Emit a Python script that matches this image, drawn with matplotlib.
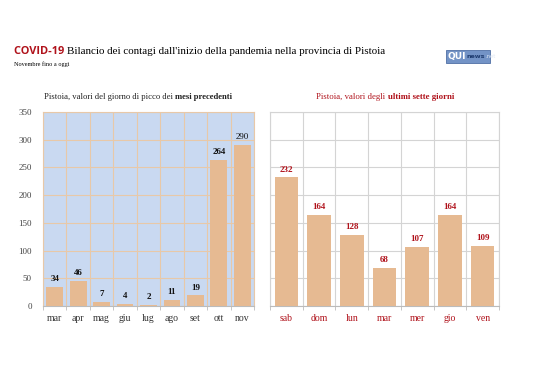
import matplotlib
matplotlib.use("Agg")
import matplotlib.pyplot as plt
from matplotlib.patches import Rectangle
import numpy as np

mesi = ["mar", "apr", "mag", "giu", "lug", "ago", "set", "ott", "nov"]
picchi = [34, 46, 7, 4, 2, 11, 19, 264, 290]
giorni = ["sab", "dom", "lun", "mar", "mer", "gio", "ven"]
ultimi = [232, 164, 128, 68, 107, 164, 109]

BAR = "#E6BA92"
BLUE = "#C9D9F1"
RED = "#B0121B"
SERIF = "Liberation Serif"

fig = plt.figure(figsize=(5.38, 3.80), dpi=100)
fig.patch.set_facecolor("white")


def testo_multi(x, y, parts, ha="left", **kw):
    # scrive pezzi di testo uno dopo l'altro sulla stessa riga
    r = fig.canvas.get_renderer()
    objs = []
    for s, props in parts:
        t = fig.text(0, y, s, **{**kw, **props})
        objs.append(t)
    widths = [t.get_window_extent(r).width / fig.bbox.width for t in objs]
    tot = sum(widths)
    start = x - tot / 2 if ha == "center" else x
    for t, w in zip(objs, widths):
        t.set_x(start)
        start += w


def pannello(ax, labels, values, bg, gridcol, labcol, valcol, yticks):
    xs = np.arange(len(labels))
    ax.set_facecolor(bg)
    ax.bar(xs, values, width=0.72, color=BAR, zorder=3)
    ax.set_xlim(-0.5, len(labels) - 0.5)
    ax.set_ylim(0, 350)
    ax.set_yticks(np.arange(0, 351, 50))
    ax.set_xticks(np.arange(-0.5, len(labels), 1), minor=True)
    ax.grid(True, which="minor", axis="x", color=gridcol, lw=0.8, zorder=1)
    ax.grid(True, which="major", axis="y", color=gridcol, lw=0.8, zorder=1)
    ax.set_xticks(xs)
    ax.set_xticklabels(labels, fontfamily=SERIF, fontsize=7, color=labcol)
    ax.tick_params(axis="x", which="major", length=0, pad=6)
    ax.tick_params(axis="x", which="minor", length=3, color="#BBBBBB")
    for sp in ax.spines.values():
        sp.set_color(gridcol)
        sp.set_linewidth(0.8)
    ax.spines["bottom"].set_color("#BBBBBB")
    if yticks:
        ax.set_yticklabels([str(v) for v in range(0, 351, 50)], fontfamily=SERIF,
                           fontsize=6.5, color="#444444")
        ax.tick_params(axis="y", length=0, pad=8)
    else:
        ax.tick_params(axis="y", length=0, labelleft=False)
    for x, v in zip(xs, values):
        peso = "normal" if v == 290 else "bold"
        ax.text(x, v + 7, str(v), ha="center", va="bottom", fontfamily=SERIF,
                fontsize=6.5, fontweight=peso, color=valcol, zorder=4)


ax1 = fig.add_axes([43 / 538, 1 - 306 / 380, 211 / 538, 194 / 380])
pannello(ax1, mesi, picchi, BLUE, "#E8C8A8", "#333333", "#111111", True)

ax2 = fig.add_axes([270 / 538, 1 - 306 / 380, 229 / 538, 194 / 380])
pannello(ax2, giorni, ultimi, "white", "#D4D4D4", RED, RED, False)

# intestazione
testo_multi(14 / 538, 1 - 52 / 380,
            [("COVID-19 ", dict(fontfamily="Open Sans", fontweight="bold", color=RED, fontsize=7.9)),
             ("Bilancio dei contagi dall'inizio della pandemia nella provincia di Pistoia",
              dict(fontfamily=SERIF, color="black", fontsize=7.9))],
            va="center")
fig.text(14 / 538, 1 - 64 / 380, "Novembre fino a oggi", fontfamily=SERIF,
         fontsize=4.5, va="center")

# logo
fig.add_artist(Rectangle((446 / 538, 1 - 63 / 380), 44 / 538, 13 / 380,
                         transform=fig.transFigure, fc="#7393C6", ec="#4F6FA5", lw=0.6))
testo_multi(448 / 538, 1 - 56.5 / 380,
            [("QUI", dict(fontfamily="DejaVu Sans", fontweight="bold", color="white", fontsize=6.5)),
             ("news", dict(fontfamily="DejaVu Sans", fontweight="bold", color="#1F3C70", fontsize=4.6)),
             (".net", dict(fontfamily="DejaVu Sans", color="#DDE6F3", fontsize=3.8))],
            va="center")

# sottotitoli dei pannelli
testo_multi(138 / 538, 1 - 97 / 380,
            [("Pistoia, valori del giorno di picco dei ", dict(fontfamily=SERIF, color="#222222")),
             ("mesi precedenti", dict(fontfamily=SERIF, fontweight="bold", color="#222222"))],
            ha="center", va="center", fontsize=6.2)
testo_multi(385 / 538, 1 - 97 / 380,
            [("Pistoia, valori degli ", dict(fontfamily=SERIF, color=RED)),
             ("ultimi sette giorni", dict(fontfamily=SERIF, fontweight="bold", color=RED))],
            ha="center", va="center", fontsize=6.3)

fig.savefig("out.png", dpi=100)
